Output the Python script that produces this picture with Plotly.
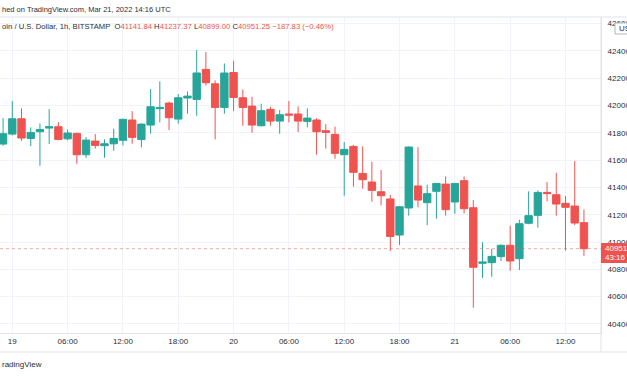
import pandas as pd
import plotly.graph_objects as go

# ---- data (BTC/USD, 1h, BITSTAMP) ----
times = pd.date_range("2022-03-18 23:00", periods=64, freq="h")
opens = [41717, 41790, 41902, 41758, 41807, 41834, 41844, 41755, 41795, 41639,
         41739, 41705, 41719, 41744, 41893, 41750, 41856, 41976, 42017, 41900,
         42054, 42044, 42263, 42158, 41985, 42241, 42056, 41995, 41851, 41971,
         41885, 41937, 41937, 41883, 41893, 41815, 41788, 41639, 41700, 41502,
         41439, 41368, 41315, 41051, 41249, 41410, 41288, 41371, 41424, 41293,
         41449, 41251, 40844, 40849, 40893, 40976, 40878, 41137, 41195, 41363,
         41346, 41283, 41263, 41141.84]
highs = [41907, 42032, 41978, 41839, 41868, 41973, 41878, 41824, 41800, 41768,
         41790, 41751, 41829, 41902, 41958, 41868, 42119, 42176, 42027, 42083,
         42102, 42405, 42390, 42183, 42307, 42327, 42117, 42063, 42012, 41990,
         41966, 42032, 41993, 41978, 41907, 41863, 41844, 41732, 41710, 41700,
         41588, 41527, 41344, 41263, 41700, 41695, 41419, 41432, 41480, 41432,
         41480, 41307, 40998, 40949, 40983, 41119, 41163, 41371, 41378, 41439,
         41507, 41337, 41593, 41237.37]
lows = [41705, 41780, 41741, 41702, 41558, 41717, 41745, 41745, 41573, 41615,
        41683, 41617, 41668, 41707, 41719, 41693, 41793, 41876, 41819, 41866,
        41939, 41924, 42146, 41751, 41939, 41958, 41851, 41800, 41846, 41851,
        41793, 41876, 41805, 41839, 41639, 41683, 41610, 41339, 41405, 41390,
        41295, 41268, 40934, 40978, 41193, 41254, 41124, 41171, 41193, 41207,
        41210, 40519, 40737, 40746, 40861, 40790, 40795, 41130, 41105, 41298,
        41193, 40937, 41124, 40899.00]
closes = [41793, 41902, 41761, 41802, 41824, 41844, 41751, 41798, 41639, 41746,
          41707, 41719, 41758, 41898, 41766, 41863, 41990, 41985, 41910, 42056,
          42068, 42237, 42166, 41985, 42237, 42058, 41985, 41856, 41961, 41885,
          41932, 41929, 41885, 41907, 41807, 41802, 41649, 41678, 41510, 41456,
          41378, 41339, 41041, 41258, 41695, 41307, 41354, 41429, 41237, 41429,
          41244, 40815, 40854, 40895, 40976, 40861, 41134, 41193, 41363, 41354,
          41278, 41254, 41139, 40951.25]

x_tickvals = pd.date_range("2022-03-19 00:00", "2022-03-21 12:00", freq="6h")
x_ticktext = ["19", "06:00", "12:00", "18:00", "20", "06:00", "12:00", "18:00",
              "21", "06:00", "12:00"]
y_tickvals = list(range(40400, 42601, 200))
y_ticktext = [str(v) for v in y_tickvals]

last_price = 40951.25
countdown = "43:16"

UP = "#26a69a"
DOWN = "#ef5350"
TXT = "#2a2e39"
GRID = "#f0f3fa"
BORDER = "#e0e3eb"
FONT = "Liberation Sans"

W, H = 627, 376
ML, MR, MT, MB = 0, 26, 17, 43
PH = H - MT - MB  # plot height in px
PW = W - ML - MR


def py(pix):  # pixel y -> paper y
    return (H - MB - pix) / PH


def px(pix):  # pixel x -> paper x
    return (pix - ML) / PW


fig = go.Figure(go.Candlestick(
    x=times, open=opens, high=highs, low=lows, close=closes,
    increasing=dict(line=dict(color=UP, width=1), fillcolor=UP),
    decreasing=dict(line=dict(color=DOWN, width=1), fillcolor=DOWN),
    whiskerwidth=0, hoverinfo="skip", showlegend=False,
))

fig.update_layout(
    width=W, height=H,
    margin=dict(l=ML, r=MR, t=MT, b=MB, pad=0),
    paper_bgcolor="white", plot_bgcolor="white",
    boxgap=0.2, boxgroupgap=0,
    font=dict(family=FONT, size=8, color=TXT),
    xaxis=dict(
        range=["2022-03-18 22:40", "2022-03-21 15:51"],
        tickvals=x_tickvals, ticktext=x_ticktext,
        showgrid=True, gridcolor=GRID, gridwidth=1,
        showline=True, linecolor=BORDER, linewidth=1,
        ticks="", zeroline=False, rangeslider=dict(visible=False),
        tickfont=dict(family=FONT, size=8, color=TXT),
        fixedrange=True,
    ),
    yaxis=dict(
        side="right", range=[40334, 42647],
        tickvals=y_tickvals, ticktext=y_ticktext,
        showgrid=True, gridcolor=GRID, gridwidth=1,
        showline=True, linecolor=BORDER, linewidth=1,
        ticks="", ticklabelstandoff=4, zeroline=False, automargin=False,
        tickfont=dict(family=FONT, size=8, color=TXT),
        fixedrange=True,
    ),
)

shapes = [
    # last price dotted line
    dict(type="line", xref="paper", yref="y", x0=0, x1=1, y0=last_price, y1=last_price,
         line=dict(color=DOWN, width=1, dash="dot"), opacity=0.5, layer="above"),
    # top border
    dict(type="line", xref="paper", yref="paper", x0=0, x1=px(W + 5), y0=1, y1=1,
         line=dict(color=BORDER, width=1)),
    # bottom border under time labels
    dict(type="line", xref="paper", yref="paper", x0=0, x1=px(W + 5), y0=py(352), y1=py(352),
         line=dict(color=BORDER, width=1)),
    # right axis separator extended down
    dict(type="line", xref="paper", yref="paper", x0=1, x1=1, y0=py(352), y1=1,
         line=dict(color=BORDER, width=1)),
    # last price label box
    dict(type="rect", xref="paper", yref="paper", x0=px(601), x1=px(W + 5),
         y0=py(263), y1=py(243), fillcolor=DOWN, line=dict(width=0), layer="above"),
    # USD tag box
    dict(type="rect", xref="paper", yref="paper", x0=px(615), x1=px(W + 5),
         y0=py(34), y1=py(23), fillcolor="white", line=dict(color="#b2b5be", width=1),
         layer="above"),
]
fig.update_layout(shapes=shapes)

R = "<span style='color:%s'>%%s</span>" % DOWN
header2 = ("oin / U.S. Dollar, 1h, BITSTAMP  O" + R % "41141.84" + " H" + R % "41237.37"
           + " L" + R % "40899.00" + " C" + R % "40951.25" + " " + R % "\u2212187.83 (\u22120.46%)")

annotations = [
    dict(text="hed on TradingView.com, Mar 21, 2022 14:16 UTC", x=0, y=py(9),
         xanchor="left", yanchor="middle", font=dict(size=7.5, color=TXT)),
    dict(text=header2, x=0, y=py(27), xanchor="left", yanchor="middle",
         font=dict(size=7.7, color=TXT)),
    dict(text="radingView", x=0, y=py(364), xanchor="left", yanchor="middle",
         font=dict(size=8, color=TXT)),
    dict(text="40951", x=px(603), y=py(248.7), xanchor="left", yanchor="middle",
         font=dict(size=8, color="white")),
    dict(text=countdown, x=px(603), y=py(257.5), xanchor="left", yanchor="middle",
         font=dict(size=8, color="white")),
    dict(text="USD", x=px(617), y=py(28.5), xanchor="left", yanchor="middle",
         font=dict(size=8, color=TXT)),
]
for a in annotations:
    a.update(xref="paper", yref="paper", showarrow=False)
fig.update_layout(annotations=annotations)

fig.write_html("out.html", config={"displayModeBar": False},
               post_script="document.body.style.margin='0';")
